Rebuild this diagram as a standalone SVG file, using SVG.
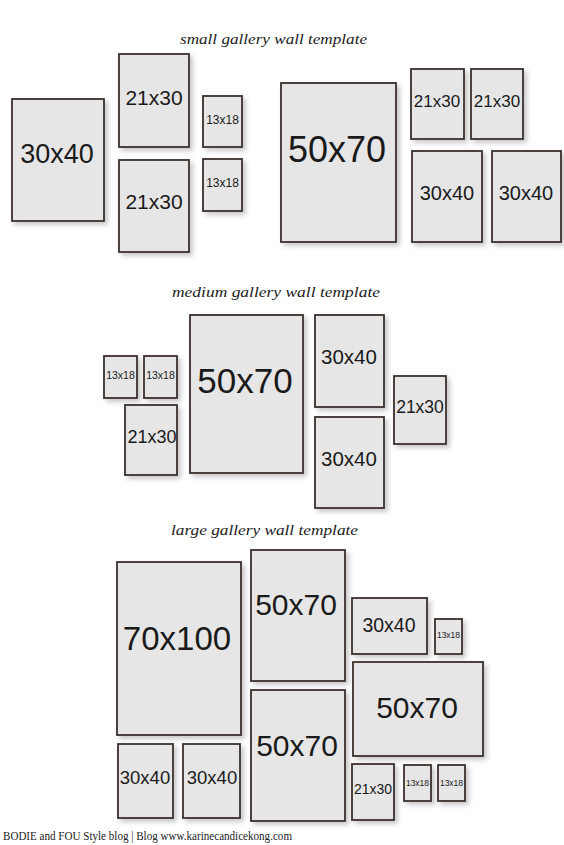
<svg xmlns="http://www.w3.org/2000/svg" width="564" height="845" viewBox="0 0 564 845">
<defs>
<filter id="sh" x="-20%" y="-20%" width="150%" height="150%">
<feDropShadow dx="3" dy="3" stdDeviation="2.5" flood-color="#000" flood-opacity="0.22"/>
</filter>
<style>
.f{fill:#e6e6e6;stroke:#3a302c;stroke-width:1.8;filter:url(#sh)}
.l{font-family:"Liberation Sans",Arial,sans-serif;fill:#1a1a1a;text-anchor:middle}
.t{font-family:"Liberation Serif","Times New Roman",serif;font-style:italic;fill:#222}
.ft{font-family:"Liberation Serif","Times New Roman",serif;fill:#222}
</style>
</defs>
<rect width="564" height="845" fill="#fff"/>
<text class="t" x="180" y="44" font-size="15" textLength="187" lengthAdjust="spacingAndGlyphs">small gallery wall template</text>
<text class="t" x="172" y="297" font-size="15" textLength="208" lengthAdjust="spacingAndGlyphs">medium gallery wall template</text>
<text class="t" x="171" y="535" font-size="15" textLength="187" lengthAdjust="spacingAndGlyphs">large gallery wall template</text>
<g id="small">
<g id="s1"><rect class="f" x="12" y="99" width="92" height="122"/><text class="l" x="57" y="163" font-size="27">30x40</text></g>
<g id="s2"><rect class="f" x="119" y="54" width="70" height="93"/><text class="l" x="154" y="105" font-size="21">21x30</text></g>
<g id="s3"><rect class="f" x="203" y="96" width="39" height="51"/><text class="l" x="222.5" y="124" font-size="12">13x18</text></g>
<g id="s4"><rect class="f" x="119" y="160" width="70" height="92"/><text class="l" x="154" y="209" font-size="21">21x30</text></g>
<g id="s5"><rect class="f" x="203" y="159" width="39" height="52"/><text class="l" x="222.5" y="187" font-size="12">13x18</text></g>
<g id="s6"><rect class="f" x="281" y="83" width="115" height="159"/><text class="l" x="337" y="162" font-size="36">50x70</text></g>
<g id="s7"><rect class="f" x="411" y="69" width="53" height="70"/><text class="l" x="437" y="107" font-size="17">21x30</text></g>
<g id="s8"><rect class="f" x="471" y="69" width="52" height="70"/><text class="l" x="497" y="107" font-size="17">21x30</text></g>
<g id="s9"><rect class="f" x="412" y="151" width="70" height="91"/><text class="l" x="447" y="200" font-size="20">30x40</text></g>
<g id="s10"><rect class="f" x="492" y="151" width="69" height="91"/><text class="l" x="526" y="200" font-size="20">30x40</text></g>
</g>
<g id="medium">
<g id="m1"><rect class="f" x="104" y="356" width="33" height="42"/><text class="l" x="120.5" y="379" font-size="10.5">13x18</text></g>
<g id="m2"><rect class="f" x="144" y="356" width="33" height="42"/><text class="l" x="160.5" y="379" font-size="10.5">13x18</text></g>
<g id="m3"><rect class="f" x="125" y="405" width="52" height="70"/><text class="l" x="152" y="443" font-size="18">21x30</text></g>
<g id="m4"><rect class="f" x="190" y="315" width="113" height="158"/><text class="l" x="245" y="393" font-size="35">50x70</text></g>
<g id="m5"><rect class="f" x="315" y="315" width="69" height="92"/><text class="l" x="349" y="364" font-size="20.5">30x40</text></g>
<g id="m6"><rect class="f" x="315" y="417" width="69" height="91"/><text class="l" x="349" y="466" font-size="20.5">30x40</text></g>
<g id="m7"><rect class="f" x="394" y="376" width="52" height="68"/><text class="l" x="420" y="413" font-size="17.5">21x30</text></g>
</g>
<g id="large">
<g id="l1"><rect class="f" x="117" y="562" width="124" height="173"/><text class="l" x="177" y="650" font-size="33">70x100</text></g>
<g id="l2"><rect class="f" x="251" y="550" width="94" height="131"/><text class="l" x="296" y="615" font-size="30">50x70</text></g>
<g id="l3"><rect class="f" x="251" y="690" width="94" height="131"/><text class="l" x="297" y="756" font-size="30">50x70</text></g>
<g id="l4"><rect class="f" x="118" y="744" width="55" height="74"/><text class="l" x="145" y="784" font-size="18.5">30x40</text></g>
<g id="l5"><rect class="f" x="183" y="744" width="57" height="74"/><text class="l" x="212" y="784" font-size="18.5">30x40</text></g>
<g id="l6"><rect class="f" x="352" y="598" width="75" height="56"/><text class="l" x="389" y="632" font-size="19.5">30x40</text></g>
<g id="l7"><rect class="f" x="435" y="619" width="27" height="35"/><text class="l" x="448.5" y="638" font-size="8.5">13x18</text></g>
<g id="l8"><rect class="f" x="353" y="662" width="130" height="94"/><text class="l" x="417" y="718" font-size="30">50x70</text></g>
<g id="l9"><rect class="f" x="352" y="764" width="42" height="56"/><text class="l" x="373" y="794" font-size="14">21x30</text></g>
<g id="l10"><rect class="f" x="404" y="765" width="27" height="36"/><text class="l" x="417.5" y="786" font-size="8.5">13x18</text></g>
<g id="l11"><rect class="f" x="438" y="765" width="27" height="36"/><text class="l" x="451.5" y="786" font-size="8.5">13x18</text></g>
</g>
<g id="connectors"></g>
<text class="ft" x="3" y="840" font-size="12" textLength="289" lengthAdjust="spacingAndGlyphs">BODIE and FOU Style blog | Blog www.karinecandicekong.com</text>
</svg>
